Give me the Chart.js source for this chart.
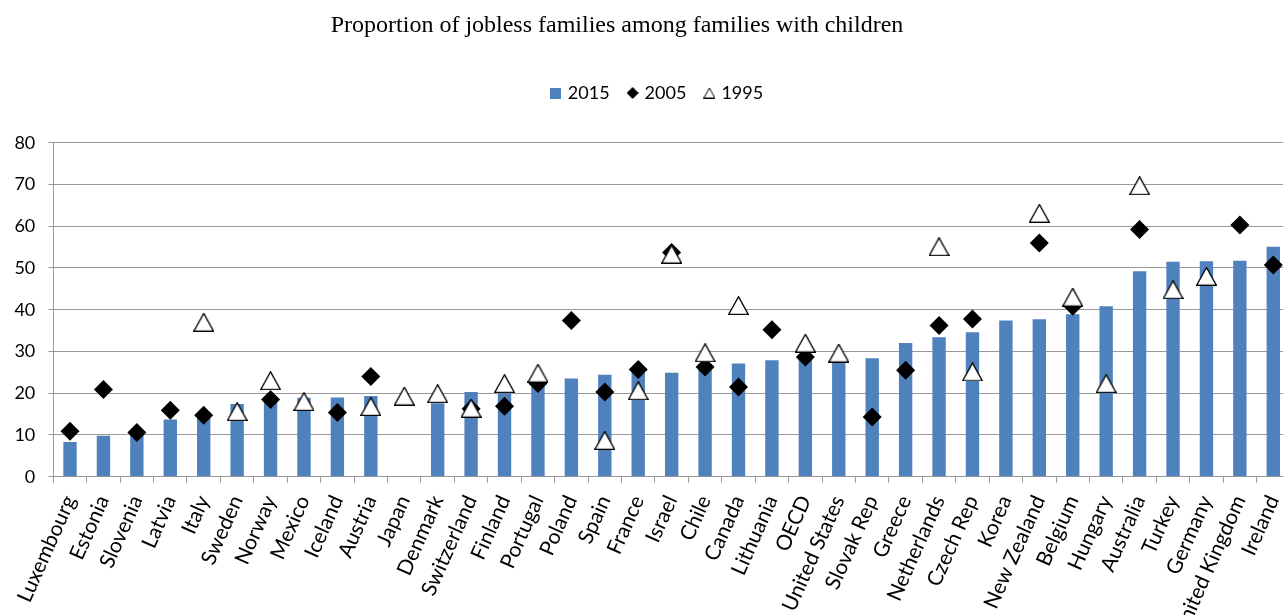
<!DOCTYPE html>
<html lang="en">
<head>
<meta charset="UTF-8">
<title>Jobless families among families with children</title>
<script src="https://cdn.jsdelivr.net/npm/chart.js@4.4.1/dist/chart.umd.min.js"></script>
<style>
  html, body { margin: 0; padding: 0; background: #fff; overflow: hidden; }
  #wrap { width: 1290px; height: 615px; }
</style>
</head>
<body>
<div id="wrap"><canvas id="chartJF" width="1290" height="615"></canvas></div>
<script>
const chartTitle = 'Proportion of jobless families among families with children';

const countries = ['Luxembourg', 'Estonia', 'Slovenia', 'Latvia', 'Italy', 'Sweden', 'Norway', 'Mexico',
  'Iceland', 'Austria', 'Japan', 'Denmark', 'Switzerland', 'Finland', 'Portugal', 'Poland', 'Spain',
  'France', 'Israel', 'Chile', 'Canada', 'Lithuania', 'OECD', 'United States', 'Slovak Rep', 'Greece',
  'Netherlands', 'Czech Rep', 'Korea', 'New Zealand', 'Belgium', 'Hungary', 'Australia', 'Turkey',
  'Germany', 'United Kingdom', 'Ireland'];

const share2015 = [8.3, 9.8, 10.0, 13.7, 14.2, 17.4, 18.0, 18.9, 19.0, 19.3, null, 17.6, 20.3, 20.0,
  22.0, 23.5, 24.4, 25.0, 24.9, 26.5, 27.1, 27.9, 28.5, 27.5, 28.4, 32.0, 33.4, 34.6, 37.4, 37.7,
  38.9, 40.8, 49.2, 51.5, 51.6, 51.7, 55.1];

const share2005 = [10.9, 20.9, 10.6, 15.9, 14.7, null, 18.5, null, 15.4, 24.0, null, null, 16.3, 16.9,
  22.3, 37.4, 20.3, 25.7, 53.7, 26.3, 21.5, 35.2, 28.7, null, 14.3, 25.5, 36.2, 37.8, null, 56.0,
  40.8, null, 59.2, null, null, 60.3, 50.7];

const share1995 = [null, null, null, null, 37.0, 15.6, 23.0, 18.0, null, 16.8, 19.3, 19.9, 16.4, 22.3,
  24.8, null, 8.7, 20.6, 53.3, 29.7, 41.0, null, 32.0, 29.6, null, null, 55.1, 25.1, null, 63.1,
  43.0, 22.3, 69.7, 44.8, 48.0, null, null];

const yTicks = [0, 10, 20, 30, 40, 50, 60, 70, 80];

const barBlue = '#4F81BD';
const gridGrey = '#999999';
const labelFont = 'Lato';

// small canvases used as point styles (drawn centred on the value)
function makeMark(w, h, draw) {
  const c = document.createElement('canvas');
  c.width = w; c.height = h;
  draw(c.getContext('2d'), w, h);
  return c;
}
function triangle(w, h, lw) {
  return makeMark(w, h, (ctx) => {
    ctx.beginPath();
    ctx.moveTo(w / 2, lw / 2);
    ctx.lineTo(w - lw / 2, h - lw / 2);
    ctx.lineTo(lw / 2, h - lw / 2);
    ctx.closePath();
    ctx.fillStyle = '#fff';
    ctx.fill();
    ctx.lineWidth = lw;
    ctx.strokeStyle = '#000';
    ctx.stroke();
  });
}
function diamond(s) {
  return makeMark(s, s, (ctx) => {
    ctx.beginPath();
    ctx.moveTo(s / 2, 0); ctx.lineTo(s, s / 2); ctx.lineTo(s / 2, s); ctx.lineTo(0, s / 2);
    ctx.closePath();
    ctx.fillStyle = '#000';
    ctx.fill();
  });
}
function square(s) {
  return makeMark(s, s, (ctx) => { ctx.fillStyle = barBlue; ctx.fillRect(0, 0, s, s); });
}

const triMark = triangle(21, 19, 1.3);
const legendMarks = [square(11), diamond(12), triangle(12, 11, 1)];

// title sits left of centre, legend a little right of it
const titlePlugin = {
  id: 'plainTitle',
  afterLayout(chart) {
    chart.legend.left += 13;
    chart.legend.right += 13;
  },
  afterDraw(chart) {
    const ctx = chart.ctx;
    ctx.save();
    ctx.font = '24px "Liberation Serif"';
    ctx.fillStyle = '#000';
    ctx.textAlign = 'center';
    ctx.textBaseline = 'middle';
    ctx.fillText(chartTitle, 617, 26);
    ctx.restore();
  }
};

function drawChart() {
  const ctx = document.getElementById('chartJF').getContext('2d');
  new Chart(ctx, {
    type: 'bar',
    data: {
      labels: countries,
      datasets: [{
        label: '2015',
        data: share2015,
        backgroundColor: barBlue,
        borderWidth: 0,
        barPercentage: 0.4,
        categoryPercentage: 1.0,
        order: 3
      }, {
        type: 'line',
        label: '2005',
        data: share2005,
        showLine: false,
        clip: false,
        pointStyle: 'rectRot',
        pointRadius: 9.5,
        pointBackgroundColor: '#000',
        pointBorderColor: '#000',
        pointBorderWidth: 0,
        order: 2
      }, {
        type: 'line',
        label: '1995',
        data: share1995,
        showLine: false,
        clip: false,
        pointStyle: triMark,
        pointRadius: 10,
        order: 1
      }]
    },
    options: {
      responsive: false,
      animation: false,
      events: [],
      layout: { autoPadding: false, padding: { left: 0, right: 0, top: 64, bottom: 0 } },
      plugins: {
        tooltip: { enabled: false },
        legend: {
          display: true,
          position: 'top',
          labels: {
            usePointStyle: true,
            boxWidth: 6,
            boxHeight: 6,
            padding: 20,
            color: '#000',
            font: { family: labelFont, size: 18 },
            generateLabels: (chart) => Chart.defaults.plugins.legend.labels.generateLabels(chart)
              .sort((a, b) => a.datasetIndex - b.datasetIndex)
              .map(item => ({ ...item, pointStyle: legendMarks[item.datasetIndex] }))
          }
        },
        // empty spacer between legend and plot
        subtitle: {
          display: true,
          text: '',
          weight: 500,
          font: { size: 1, lineHeight: 1 },
          padding: { top: 29.7, bottom: 0 }
        }
      },
      scales: {
        x: {
          offset: true,
          grid: { offset: true, drawOnChartArea: false, drawTicks: true, tickLength: 6, color: gridGrey },
          border: { color: gridGrey },
          ticks: {
            autoSkip: false,
            minRotation: 66,
            maxRotation: 66,
            padding: 9,
            color: '#000',
            font: { family: labelFont, size: 21 }
          },
          afterFit: (scale) => {
            scale.height = 138.3;
            scale.paddingLeft = 0;
            scale.paddingRight = 0;
          }
        },
        y: {
          min: 0,
          max: 80,
          grid: { color: gridGrey, tickLength: 5 },
          border: { color: gridGrey },
          ticks: {
            padding: 13,
            color: '#000',
            font: { family: labelFont, size: 18 }
          },
          afterBuildTicks: (scale) => { scale.ticks = yTicks.map(v => ({ value: v })); },
          afterFit: (scale) => { scale.width = 53.3; }
        }
      }
    },
    plugins: [titlePlugin]
  });
}

if (document.fonts && document.fonts.load) {
  Promise.all([
    document.fonts.load('18px Lato'),
    document.fonts.load('24px "Liberation Serif"')
  ]).then(drawChart, drawChart);
} else {
  drawChart();
}
</script>
</body>
</html>
